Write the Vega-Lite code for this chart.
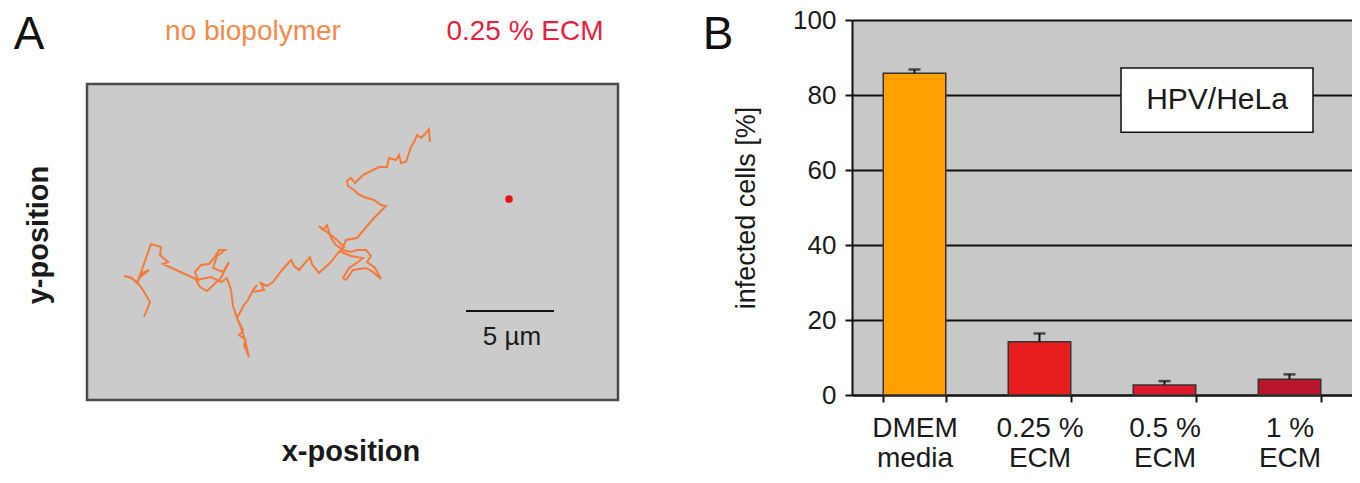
{
  "$schema": "https://vega.github.io/schema/vega-lite/v6.json",
  "padding": {"left": 13, "top": 7, "right": 0, "bottom": 0},
  "background": "white",
  "spacing": 234,
  "bounds": "flush",
  "config": {
    "font": "Liberation Sans",
    "view": {"stroke": null},
    "axisY": {"grid": true, "gridColor": "#111111", "gridWidth": 2, "gridOpacity": 1, "domainColor": "#111111", "domainWidth": 2, "tickColor": "#111111", "tickWidth": 2, "tickSize": 7, "labelFontSize": 26, "labelColor": "#1a1a1a", "labelPadding": 9, "titleFontSize": 27, "titleFontWeight": "normal", "titleColor": "#1a1a1a", "titlePadding": 32},
    "axisX": {"grid": false, "domainColor": "#111111", "domainWidth": 2, "tickColor": "#111111", "tickWidth": 2, "tickSize": 7, "labelFontSize": 28, "labelColor": "#1a1a1a", "labelPadding": 12, "labelAngle": 0, "tickBand": "extent", "labelLineHeight": 30}
  },
  "hconcat": [
    {
      "width": 531,
      "height": 380,
      "view": {"stroke": null},
      "encoding": {
        "x": {"field": "x", "type": "quantitative", "scale": {"domain": [0, 531], "nice": false, "zero": false}, "axis": null},
        "y": {"field": "y", "type": "quantitative", "scale": {"domain": [0, 380], "nice": false, "zero": false}, "axis": null}
      },
      "layer": [
        {
          "data": {"values": [{"x": 0, "x2": 531, "y": 0, "y2": 316}]},
          "mark": {"type": "rect", "fill": "#CBCBCB", "stroke": "#4a4a4a", "strokeWidth": 2.5},
          "encoding": {"x2": {"field": "x2"}, "y2": {"field": "y2"}}
        },
        {
          "data": {"values": [
            {"i":1,"x":57,"y":83},{"i":2,"x":63,"y":98},{"i":3,"x":56,"y":110},{"i":4,"x":50,"y":118},{"i":5,"x":42,"y":123},
            {"i":6,"x":37,"y":124},{"i":7,"x":45,"y":122},{"i":8,"x":50,"y":117},{"i":9,"x":55,"y":127},{"i":10,"x":62,"y":130},
            {"i":11,"x":52,"y":122},{"i":12,"x":64,"y":156},{"i":13,"x":74,"y":153},{"i":14,"x":73,"y":145},{"i":15,"x":81,"y":138},
            {"i":16,"x":76,"y":136},{"i":17,"x":89,"y":130},{"i":18,"x":111,"y":120},{"i":19,"x":108,"y":128},{"i":20,"x":114,"y":135},
            {"i":21,"x":122,"y":136},{"i":22,"x":127,"y":142},{"i":23,"x":132,"y":150},{"i":24,"x":138,"y":150},{"i":25,"x":130,"y":144},
            {"i":26,"x":126,"y":132},{"i":27,"x":136,"y":128},{"i":28,"x":142,"y":138},{"i":29,"x":134,"y":122},{"i":30,"x":120,"y":109},
            {"i":31,"x":113,"y":113},{"i":32,"x":109,"y":120},{"i":33,"x":124,"y":123},{"i":34,"x":134,"y":118},{"i":35,"x":140,"y":122},
            {"i":36,"x":144,"y":110},{"i":37,"x":146,"y":94},{"i":38,"x":150,"y":82},{"i":39,"x":156,"y":70},{"i":40,"x":152,"y":65},
            {"i":41,"x":159,"y":60},{"i":42,"x":157,"y":55},{"i":43,"x":162,"y":43},{"i":44,"x":158,"y":60},{"i":45,"x":154,"y":72},
            {"i":46,"x":150,"y":82},{"i":47,"x":157,"y":95},{"i":48,"x":161,"y":100},{"i":49,"x":166,"y":110},{"i":50,"x":170,"y":115},
            {"i":51,"x":165,"y":108},{"i":52,"x":177,"y":110},{"i":53,"x":174,"y":117},{"i":54,"x":180,"y":114},{"i":55,"x":186,"y":118},
            {"i":56,"x":195,"y":130},{"i":57,"x":204,"y":140},{"i":58,"x":207,"y":134},{"i":59,"x":212,"y":130},{"i":60,"x":223,"y":143},
            {"i":61,"x":225,"y":136},{"i":62,"x":232,"y":127},{"i":63,"x":244,"y":138},{"i":64,"x":251,"y":147},{"i":65,"x":257,"y":153},
            {"i":66,"x":250,"y":160},{"i":67,"x":240,"y":168},{"i":68,"x":232,"y":174},{"i":69,"x":236,"y":170},{"i":70,"x":240,"y":175},
            {"i":71,"x":244,"y":162},{"i":72,"x":249,"y":155},{"i":73,"x":256,"y":150},{"i":74,"x":264,"y":148},{"i":75,"x":270,"y":150},
            {"i":76,"x":279,"y":150},{"i":77,"x":284,"y":144},{"i":78,"x":280,"y":138},{"i":79,"x":288,"y":132},{"i":80,"x":294,"y":121},
            {"i":81,"x":286,"y":128},{"i":82,"x":279,"y":132},{"i":83,"x":266,"y":130},{"i":84,"x":259,"y":120},{"i":85,"x":256,"y":122},
            {"i":86,"x":262,"y":132},{"i":87,"x":271,"y":138},{"i":88,"x":276,"y":142},{"i":89,"x":264,"y":144},{"i":90,"x":254,"y":148},
            {"i":91,"x":259,"y":160},{"i":92,"x":270,"y":162},{"i":93,"x":280,"y":174},{"i":94,"x":287,"y":182},{"i":95,"x":293,"y":188},
            {"i":96,"x":299,"y":194},{"i":97,"x":294,"y":195},{"i":98,"x":287,"y":200},{"i":99,"x":277,"y":203},{"i":100,"x":271,"y":206},
            {"i":101,"x":267,"y":210},{"i":102,"x":261,"y":214},{"i":103,"x":260,"y":219},{"i":104,"x":264,"y":222},{"i":105,"x":268,"y":217},
            {"i":106,"x":271,"y":220},{"i":107,"x":276,"y":225},{"i":108,"x":280,"y":227},{"i":109,"x":286,"y":230},{"i":110,"x":292,"y":233},
            {"i":111,"x":300,"y":233},{"i":112,"x":302,"y":242},{"i":113,"x":309,"y":240},{"i":114,"x":312,"y":245},{"i":115,"x":314,"y":237},
            {"i":116,"x":319,"y":238},{"i":117,"x":324,"y":253},{"i":118,"x":328,"y":260},{"i":119,"x":330,"y":265},{"i":120,"x":334,"y":262},
            {"i":121,"x":338,"y":266},{"i":122,"x":342,"y":271},{"i":123,"x":343,"y":258}
          ]},
          "mark": {"type": "line", "color": "#F37A3A", "strokeWidth": 2},
          "encoding": {"order": {"field": "i", "type": "quantitative"}}
        },
        {
          "data": {"values": [{"x": 422, "y": 201}]},
          "mark": {"type": "circle", "color": "#E8141C", "opacity": 1, "size": 60},
          "encoding": {}
        },
        {
          "data": {"values": [{"x": 379, "x2": 467, "y": 89}]},
          "mark": {"type": "rule", "color": "#111111", "strokeWidth": 2},
          "encoding": {"x2": {"field": "x2"}}
        },
        {
          "data": {"values": [{"label": "5 µm", "x": 425, "y": 63}]},
          "mark": {"type": "text", "fontSize": 26, "color": "#1a1a1a", "align": "center", "baseline": "middle"},
          "encoding": {"text": {"field": "label"}}
        },
        {
          "data": {"values": [{"label": "A", "x": -58, "y": 365}]},
          "mark": {"type": "text", "fontSize": 46, "color": "#111111", "align": "center", "baseline": "middle"},
          "encoding": {"text": {"field": "label"}}
        },
        {
          "data": {"values": [{"label": "no biopolymer", "x": 166, "y": 368}]},
          "mark": {"type": "text", "fontSize": 28, "color": "#F5894A", "align": "center", "baseline": "middle"},
          "encoding": {"text": {"field": "label"}}
        },
        {
          "data": {"values": [{"label": "0.25 % ECM", "x": 438, "y": 368}]},
          "mark": {"type": "text", "fontSize": 28, "color": "#E8203C", "align": "center", "baseline": "middle"},
          "encoding": {"text": {"field": "label"}}
        },
        {
          "data": {"values": [{"label": "x-position", "x": 264, "y": -52}]},
          "mark": {"type": "text", "fontSize": 29, "fontWeight": "bold", "color": "#1a1a1a", "align": "center", "baseline": "middle"},
          "encoding": {"text": {"field": "label"}}
        },
        {
          "data": {"values": [{"label": "y-position", "x": -48, "y": 165}]},
          "mark": {"type": "text", "fontSize": 29, "fontWeight": "bold", "color": "#1a1a1a", "align": "center", "baseline": "middle", "angle": 270},
          "encoding": {"text": {"field": "label"}}
        }
      ]
    },
    {
      "width": 500,
      "height": 375,
      "view": {"fill": "#C8C8C8", "stroke": null},
      "resolve": {"scale": {"x": "independent"}},
      "layer": [
        {
          "data": {"values": [
            {"cond": "DMEM|media", "val": 85.8, "upper": 86.8},
            {"cond": "0.25 %|ECM", "val": 14.2, "upper": 16.4},
            {"cond": "0.5 %|ECM", "val": 2.7, "upper": 3.7},
            {"cond": "1 %|ECM", "val": 4.2, "upper": 5.5}
          ]},
          "encoding": {
            "x": {"field": "cond", "type": "nominal", "sort": null, "scale": {"paddingInner": 0.5, "paddingOuter": 0.25}, "axis": {"title": null, "labelExpr": "split(datum.label, '|')"}}
          },
          "layer": [
            {
              "mark": {"type": "bar", "stroke": "#333333", "strokeWidth": 1.5},
              "encoding": {
                "y": {"field": "val", "type": "quantitative", "scale": {"domain": [0, 100], "nice": false}, "axis": {"title": "infected cells [%]", "values": [0, 20, 40, 60, 80, 100]}},
                "color": {"field": "cond", "type": "nominal", "sort": null, "scale": {"domain": ["DMEM|media", "0.25 %|ECM", "0.5 %|ECM", "1 %|ECM"], "range": ["#FFA000", "#E81E1E", "#E01A2E", "#B8142A"]}, "legend": null}
              }
            },
            {
              "mark": {"type": "rule", "color": "#111111", "strokeWidth": 2},
              "encoding": {
                "y": {"field": "val", "type": "quantitative", "axis": {"title": "infected cells [%]", "values": [0, 20, 40, 60, 80, 100]}},
                "y2": {"field": "upper"}
              }
            },
            {
              "mark": {"type": "tick", "color": "#111111", "size": 12, "thickness": 2.5},
              "encoding": {
                "y": {"field": "upper", "type": "quantitative", "axis": {"title": "infected cells [%]", "values": [0, 20, 40, 60, 80, 100]}}
              }
            }
          ]
        },
        {
          "data": {"values": [{"bx": 269, "bx2": 461, "val": 70.1, "val2": 87.2}]},
          "mark": {"type": "rect", "fill": "white", "stroke": "#111111", "strokeWidth": 1.5},
          "encoding": {
            "x": {"field": "bx", "type": "quantitative", "scale": {"domain": [0, 500], "nice": false, "zero": false}, "axis": null},
            "x2": {"field": "bx2"},
            "y": {"field": "val", "type": "quantitative", "axis": {"title": "infected cells [%]", "values": [0, 20, 40, 60, 80, 100]}},
            "y2": {"field": "val2"}
          }
        },
        {
          "data": {"values": [{"label": "HPV/HeLa", "bx": 365, "val": 78.7}]},
          "mark": {"type": "text", "fontSize": 30, "color": "#1a1a1a", "align": "center", "baseline": "middle"},
          "encoding": {
            "x": {"field": "bx", "type": "quantitative", "scale": {"domain": [0, 500], "nice": false, "zero": false}, "axis": null},
            "y": {"field": "val", "type": "quantitative", "axis": {"title": "infected cells [%]", "values": [0, 20, 40, 60, 80, 100]}},
            "text": {"field": "label"}
          }
        },
        {
          "data": {"values": [{"label": "B", "bx": -134, "val": 96}]},
          "mark": {"type": "text", "fontSize": 46, "color": "#111111", "align": "center", "baseline": "middle"},
          "encoding": {
            "x": {"field": "bx", "type": "quantitative", "scale": {"domain": [0, 500], "nice": false, "zero": false}, "axis": null},
            "y": {"field": "val", "type": "quantitative", "axis": {"title": "infected cells [%]", "values": [0, 20, 40, 60, 80, 100]}},
            "text": {"field": "label"}
          }
        }
      ]
    }
  ]
}
